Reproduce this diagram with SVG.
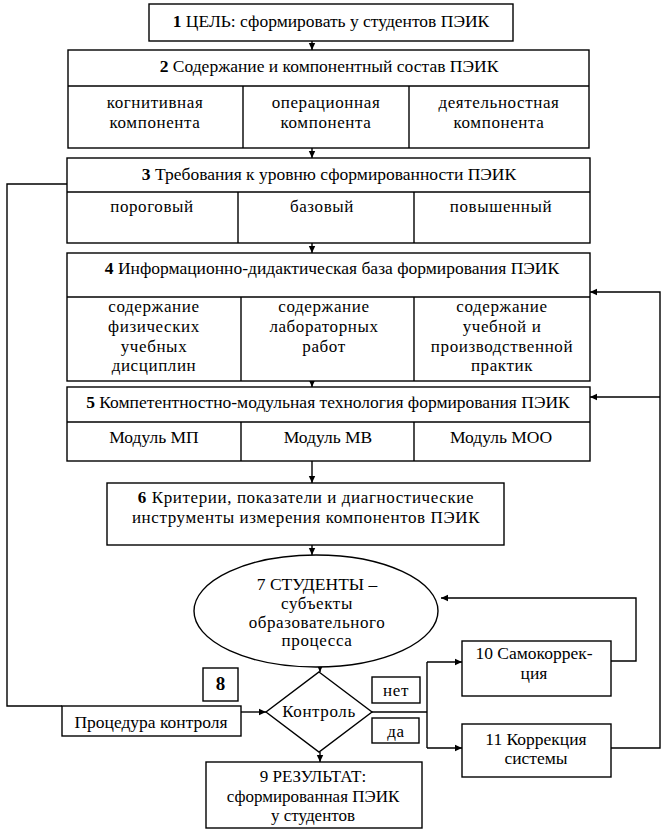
<svg xmlns="http://www.w3.org/2000/svg" width="664" height="832" viewBox="0 0 664 832">
<style>
.box{fill:#fff;stroke:#000;stroke-width:1.4}
.ln{fill:none;stroke:#000;stroke-width:1.4}
.t{font-family:"Liberation Serif","DejaVu Serif","Times New Roman",serif;font-size:17.5px;fill:#000;text-anchor:middle}
.c{font-family:"Liberation Serif","DejaVu Serif","Times New Roman",serif;font-size:17px;fill:#000;text-anchor:middle;letter-spacing:0.6px}
.b{font-weight:bold}
</style>
<defs>
<marker id="ah" markerWidth="8" markerHeight="8" refX="7" refY="4" orient="auto" markerUnits="userSpaceOnUse">
<path d="M0,0.8 L7,4 L0,7.2 Z" fill="#000"/>
</marker>
</defs>
<rect width="664" height="832" fill="#fff"/>
<g id="connectors">
<line class="ln" x1="312" y1="41" x2="312" y2="50" marker-end="url(#ah)"/>
<line class="ln" x1="312" y1="138" x2="312" y2="158" marker-end="url(#ah)"/>
<line class="ln" x1="312" y1="243" x2="312" y2="253" marker-end="url(#ah)"/>
<line class="ln" x1="312" y1="368" x2="312" y2="387" marker-end="url(#ah)"/>
<line class="ln" x1="312" y1="461" x2="312" y2="483" marker-end="url(#ah)"/>
<line class="ln" x1="312" y1="545" x2="312" y2="555" marker-end="url(#ah)"/>
<line class="ln" x1="320" y1="660" x2="320" y2="672" marker-end="url(#ah)"/>
<line class="ln" x1="320" y1="752" x2="320" y2="762" marker-end="url(#ah)"/>
<line class="ln" x1="241" y1="712" x2="266" y2="712" marker-end="url(#ah)"/>
<polyline class="ln" points="67,184 7,184 7,706 62,706"/>
<polyline class="ln" points="372,712 427,712"/>
<line class="ln" x1="427" y1="662" x2="427" y2="748"/>
<line class="ln" x1="427" y1="662" x2="462" y2="662" marker-end="url(#ah)"/>
<line class="ln" x1="427" y1="748" x2="462" y2="748" marker-end="url(#ah)"/>
<polyline class="ln" points="611,661 636,661 636,598 441,598" marker-end="url(#ah)"/>
<polyline class="ln" points="611,748 660,748 660,292 590,292" marker-end="url(#ah)"/>
<line class="ln" x1="660" y1="397" x2="590" y2="397" marker-end="url(#ah)"/>
</g>
<g id="n1">
<rect class="box" x="149" y="4" width="364" height="37"/>
<text class="t" x="331" y="27"><tspan class="b">1</tspan> ЦЕЛЬ: сформировать у студентов ПЭИК</text>
</g>
<g id="n2">
<rect class="box" x="68" y="50" width="521" height="98"/>
<line class="ln" x1="68" y1="86" x2="589" y2="86"/>
<line class="ln" x1="243" y1="86" x2="243" y2="148"/>
<line class="ln" x1="409" y1="86" x2="409" y2="148"/>
<text class="t" x="329" y="72"><tspan class="b">2</tspan> Содержание и компонентный состав ПЭИК</text>
<text class="c" x="155" y="108">когнитивная</text>
<text class="c" x="155" y="128">компонента</text>
<text class="c" x="326" y="108">операционная</text>
<text class="c" x="326" y="128">компонента</text>
<text class="c" x="499" y="108">деятельностная</text>
<text class="c" x="499" y="128">компонента</text>
</g>
<g id="n3">
<rect class="box" x="67" y="158" width="523" height="85"/>
<line class="ln" x1="67" y1="192" x2="590" y2="192"/>
<line class="ln" x1="238" y1="192" x2="238" y2="243"/>
<line class="ln" x1="414" y1="192" x2="414" y2="243"/>
<text class="t" x="329" y="180"><tspan class="b">3</tspan> Требования к уровню сформированности ПЭИК</text>
<text class="c" x="152" y="212">пороговый</text>
<text class="c" x="322" y="212">базовый</text>
<text class="c" x="501" y="212">повышенный</text>
</g>
<g id="n4">
<rect class="box" x="67" y="253" width="523" height="128"/>
<line class="ln" x1="67" y1="297" x2="590" y2="297"/>
<line class="ln" x1="241" y1="297" x2="241" y2="381"/>
<line class="ln" x1="414" y1="297" x2="414" y2="381"/>
<text class="t" x="332" y="274"><tspan class="b">4</tspan> Информационно-дидактическая база формирования  ПЭИК</text>
<text class="c" x="154" y="312">содержание</text>
<text class="c" x="154" y="332">физических</text>
<text class="c" x="154" y="352">учебных</text>
<text class="c" x="154" y="371">дисциплин</text>
<text class="c" x="324" y="312">содержание</text>
<text class="c" x="324" y="332">лабораторных</text>
<text class="c" x="324" y="352">работ</text>
<text class="c" x="502" y="312">содержание</text>
<text class="c" x="502" y="332">учебной и</text>
<text class="c" x="502" y="352">производственной</text>
<text class="c" x="502" y="371">практик</text>
</g>
<g id="n5">
<rect class="box" x="67" y="387" width="523" height="74"/>
<line class="ln" x1="67" y1="422" x2="590" y2="422"/>
<line class="ln" x1="241" y1="422" x2="241" y2="461"/>
<line class="ln" x1="414" y1="422" x2="414" y2="461"/>
<text class="t" x="328" y="408"><tspan class="b">5</tspan> Компетентностно-модульная технология формирования ПЭИК</text>
<text class="t" x="154" y="443">Модуль МП</text>
<text class="t" x="328" y="443">Модуль МВ</text>
<text class="t" x="501" y="443">Модуль МОО</text>
</g>
<g id="n6">
<rect class="box" x="107" y="483" width="397" height="62"/>
<text class="c" x="306" y="503"><tspan class="b">6</tspan>  Критерии, показатели и диагностические</text>
<text class="c" x="306" y="523">инструменты измерения компонентов ПЭИК</text>
</g>
<g id="n7">
<ellipse class="box" cx="316" cy="611" rx="122" ry="56"/>
<text class="t" x="317" y="590">7  СТУДЕНТЫ –</text>
<text class="c" x="317" y="609">субъекты</text>
<text class="c" x="317" y="628">образовательного</text>
<text class="c" x="317" y="646">процесса</text>
</g>
<g id="n8">
<rect class="box" x="203" y="668" width="35" height="33"/>
<text class="t b" x="220.5" y="690" style="font-size:19px">8</text>
</g>
<g id="proc">
<rect class="box" x="62" y="706" width="179" height="30"/>
<text class="t" x="151" y="728">Процедура контроля</text>
</g>
<g id="control">
<polygon class="box" points="319,672 372,712 319,752 266,712"/>
<text class="c" x="319" y="717">Контроль</text>
</g>
<g id="no">
<rect class="box" x="372" y="677" width="48" height="26"/>
<text class="c" x="396" y="696">нет</text>
</g>
<g id="yes">
<rect class="box" x="372" y="718" width="47" height="25"/>
<text class="c" x="396" y="737">да</text>
</g>
<g id="n9">
<rect class="box" x="206" y="762" width="216" height="66"/>
<text class="t" x="313" y="782" style="font-size:17px">9  РЕЗУЛЬТАТ:</text>
<text class="t" x="313" y="802" style="font-size:17px">сформированная ПЭИК</text>
<text class="t" x="313" y="821" style="font-size:17px">у студентов</text>
</g>
<g id="n10">
<rect class="box" x="462" y="641" width="149" height="55"/>
<text class="t" x="534" y="659">10 Самокоррек-</text>
<text class="t" x="534" y="679">ция</text>
</g>
<g id="n11">
<rect class="box" x="462" y="724" width="149" height="53"/>
<text class="t" x="536" y="745">11 Коррекция</text>
<text class="t" x="536" y="764">системы</text>
</g>
</svg>
